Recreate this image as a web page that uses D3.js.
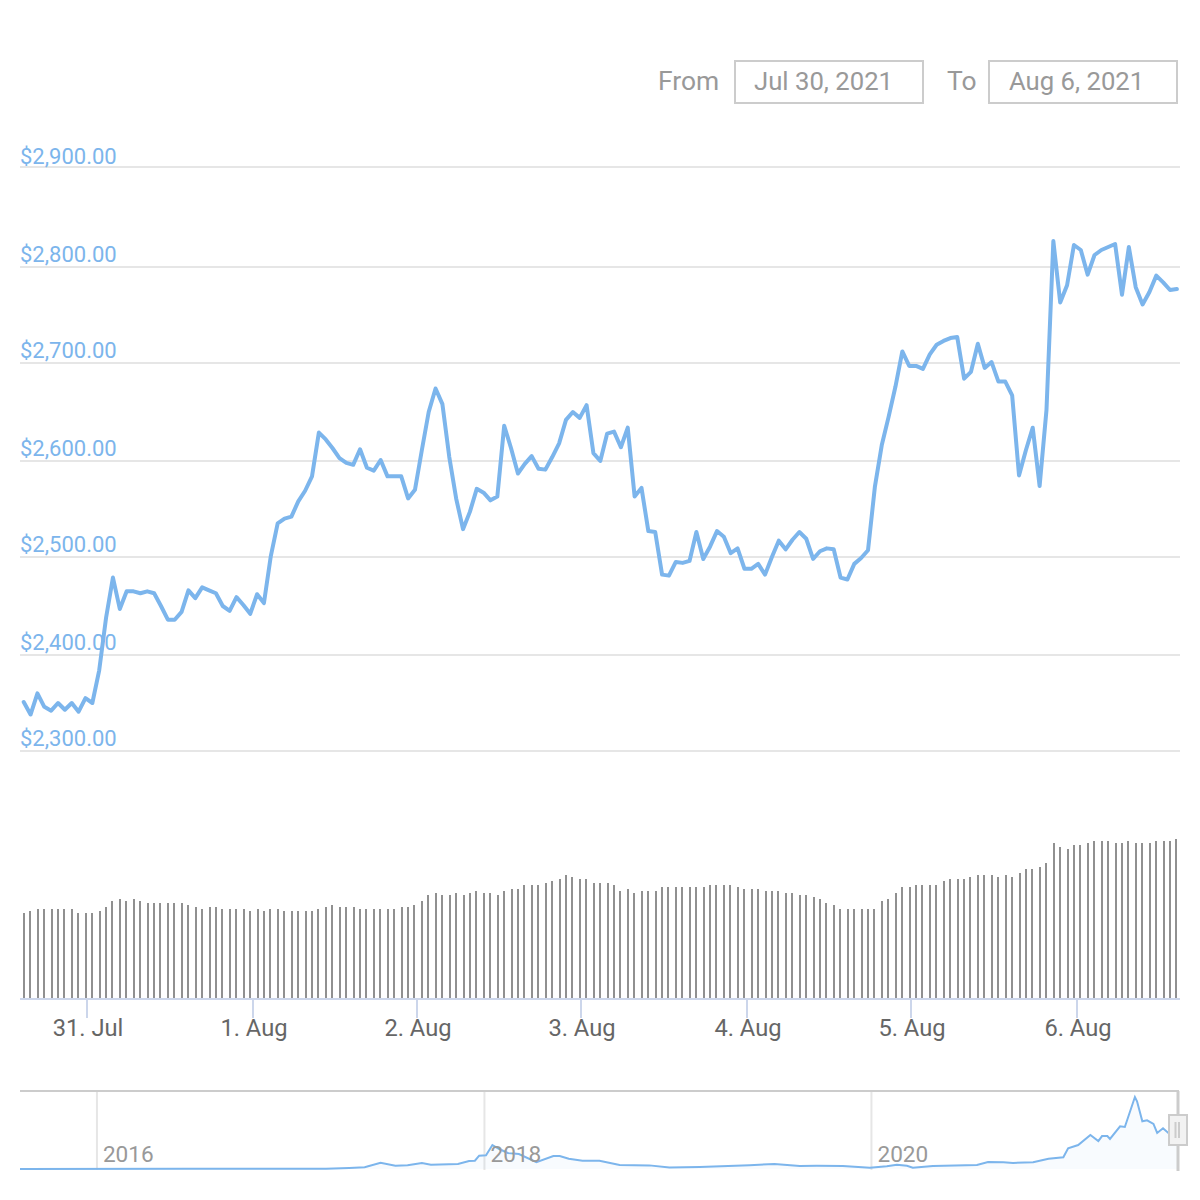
<!DOCTYPE html>
<html>
<head>
<meta charset="utf-8">
<script src="https://cdn.jsdelivr.net/npm/d3@7"></script>
<style>
  body { margin: 0; background: #fff; }
  text { font-family: Roboto, sans-serif; }
</style>
</head>
<body>
<div id="chart"></div>
<script>
// hourly price (first point Jul 30 14:41 UTC)
var priceValues = [
  2351,2338,2360,2346,2342,2350,2343,2350,2341,2355,
  2350,2384,2438,2479,2447,2465,2465,2463,2465,2463,
  2450,2436,2436,2444,2466,2458,2469,2466,2463,2450,
  2445,2459,2451,2442,2462,2453,2501,2535,2540,2542,
  2558,2569,2584,2629,2622,2613,2603,2598,2596,2612,
  2593,2590,2601,2584,2584,2584,2561,2570,2611,2650,
  2674,2658,2604,2561,2529,2547,2571,2567,2559,2563,
  2636,2613,2587,2597,2605,2592,2591,2604,2618,2642,
  2650,2644,2657,2608,2600,2628,2630,2614,2634,2563,
  2572,2527,2526,2482,2481,2495,2494,2496,2526,2498,
  2511,2527,2521,2504,2509,2488,2488,2493,2482,2500,
  2517,2508,2518,2526,2519,2498,2506,2509,2508,2479,
  2477,2493,2499,2507,2573,2616,2645,2676,2712,2697,
  2697,2694,2709,2719,2723,2726,2727,2684,2691,2720,
  2695,2701,2681,2681,2667,2585,2611,2634,2574,2652,
  2826,2763,2781,2822,2817,2792,2812,2817,2820,2823,
  2771,2820,2779,2761,2774,2791,2784,2776,2777
];

// volume per hour, no axis in the source so these are relative units
var volumeValues = [
  86,88,90,90,90,90,90,90,86,86,
  86,88,92,98,100,98,100,98,96,96,
  96,96,96,96,94,92,90,92,92,90,
  90,90,90,88,90,88,90,90,88,88,
  88,88,88,90,92,94,92,92,92,90,
  90,90,90,90,90,92,92,94,98,104,
  106,104,104,106,104,106,108,106,106,104,
  108,110,110,114,114,114,116,118,120,124,
  122,120,120,116,116,116,114,108,110,106,
  108,108,108,112,112,112,112,112,112,112,
  114,114,114,114,112,110,110,110,108,108,
  108,106,106,104,104,102,100,96,94,90,
  90,90,90,90,90,98,100,106,112,112,
  114,114,114,114,118,120,120,120,122,124,
  124,124,122,124,122,126,130,130,132,136,
  156,152,150,154,154,156,158,158,158,156,
  156,158,156,156,156,158,158,158,160
];

var priceTicks = [2300, 2400, 2500, 2600, 2700, 2800, 2900];
var dayTicks = ["2021-07-31", "2021-08-01", "2021-08-02", "2021-08-03", "2021-08-04", "2021-08-05", "2021-08-06"];
var yearTicks = ["2016-01-01", "2018-01-01", "2020-01-01"];

// navigator: whole history in USD
var navDates = [
  "2015-08-07","2016-06-15","2017-03-08","2017-04-21","2017-05-20","2017-06-19","2017-07-17","2017-08-09",
  "2017-09-05","2017-09-22","2017-11-12","2017-12-03","2017-12-14","2017-12-22","2018-01-04","2018-01-16",
  "2018-01-29","2018-02-14","2018-03-07","2018-04-09","2018-05-11","2018-05-23","2018-06-09","2018-07-05",
  "2018-08-06","2018-09-13","2018-11-08","2018-12-16","2019-02-11","2019-05-16","2019-07-02","2019-08-19",
  "2019-09-20","2019-11-08","2019-12-29","2020-01-30","2020-02-18","2020-03-08","2020-03-19","2020-04-26",
  "2020-07-18","2020-08-08","2020-09-06","2020-09-24","2020-11-01","2020-11-30","2020-12-28","2021-01-06",
  "2021-01-25","2021-02-17","2021-03-04","2021-03-11","2021-03-21","2021-03-26","2021-04-14","2021-04-23",
  "2021-05-12","2021-05-16","2021-05-26","2021-06-04","2021-06-16","2021-06-23","2021-07-04","2021-07-14","2021-08-06"
];
var navValues = [
  1,10,17,58,100,365,190,215,
  350,250,290,465,480,770,795,1390,
  1160,930,870,390,755,755,600,480,
  480,230,210,90,120,220,290,180,
  190,175,75,155,250,190,75,175,
  230,405,390,350,390,600,680,1200,
  1390,1970,1620,1910,1910,1740,2475,2435,
  4175,3925,2765,2825,2610,2090,2360,2090,2775
];

var parseDay = d3.utcParse("%Y-%m-%d");
var startTime = Date.UTC(2021, 6, 30, 14, 41);
var hours = priceValues.map(function(d, i) { return new Date(startTime + i * 3600000); });

var svg = d3.select("#chart")
  .append("svg")
    .attr("width", 1200)
    .attr("height", 1200);

var x = d3.scaleUtc()
    .domain([hours[0], hours[hours.length - 1]])
    .range([23.7, 1176.9]);

// the source snaps its gridlines so they are not evenly spaced
var y = d3.scaleLinear()
    .domain(priceTicks)
    .range([751, 655, 557, 461, 363, 267, 167]);

var yVol = d3.scaleLinear()
    .domain([0, 160])
    .range([999, 839]);

// bars and ticks sit on odd pixels in the source
function snap(v) { return Math.floor((v - 1) / 2) * 2 + 1; }
function nearestOdd(v) { return Math.round((v - 1) / 2) * 2 + 1; }

// date inputs
var inputs = [
  {label: "From", labelX: 658, boxX: 735, text: "Jul 30, 2021", textX: 754},
  {label: "To", labelX: 947, boxX: 989, text: "Aug 6, 2021", textX: 1009}
];
inputs.forEach(function(d) {
  svg.append("text").attr("x", d.labelX).attr("y", 90)
    .style("font-size", "26.4px").style("fill", "#999").text(d.label);
  svg.append("rect").attr("x", d.boxX).attr("y", 61).attr("width", 188).attr("height", 42)
    .attr("fill", "none").attr("stroke", "#ccc").attr("stroke-width", 2);
  svg.append("text").attr("x", d.textX).attr("y", 90)
    .style("font-size", "25.7px").style("fill", "#999").text(d.text);
});

// y axis + grid
var yAxis = svg.append("g")
    .attr("transform", "translate(20,0)")
    .call(d3.axisRight(y).tickValues(priceTicks).tickSize(1160).offset(0)
      .tickFormat(function(d) { return "$" + d3.format(",.2f")(d); }));
yAxis.select(".domain").remove();
yAxis.selectAll("line").attr("stroke", "#e6e6e6").attr("stroke-width", 2);
yAxis.selectAll("text")
    .attr("x", 0).attr("y", 0)
    .attr("dy", function(d) { return d === 2900 ? -3 : -5; })
    .attr("text-anchor", "start")
    .style("font-size", "22px")
    .style("fill", "#7cb5ec");

// volume
svg.selectAll("rect.vol")
    .data(volumeValues)
    .enter()
    .append("rect")
      .attr("class", "vol")
      .attr("x", function(d, i) { return snap(x(hours[i])); })
      .attr("y", function(d) { return yVol(d); })
      .attr("width", 2)
      .attr("height", function(d) { return yVol(0) - yVol(d); })
      .attr("fill", "#909090");

// price line
var line = d3.line()
    .x(function(d, i) { return x(hours[i]); })
    .y(function(d) { return y(d); });

svg.append("path")
    .datum(priceValues)
    .attr("d", line)
    .attr("fill", "none")
    .attr("stroke", "#7cb5ec")
    .attr("stroke-width", 4)
    .attr("stroke-linejoin", "round")
    .attr("stroke-linecap", "round");

// x axis
var xAxis = svg.append("g")
    .attr("transform", "translate(0,999)")
    .call(d3.axisBottom(x).tickValues(dayTicks.map(parseDay)).tickSize(19).tickPadding(0).offset(0)
      .tickFormat(d3.utcFormat("%-d. %b")));
xAxis.select(".domain").remove();
xAxis.selectAll(".tick")
    .attr("transform", function(d) { return "translate(" + nearestOdd(x(d)) + ",0)"; });
xAxis.selectAll("line").attr("stroke", "#ccd6eb").attr("stroke-width", 2);
xAxis.selectAll("text")
    .attr("x", 1).attr("y", 37).attr("dy", 0)
    .style("font-size", "23.7px")
    .style("fill", "#666");
svg.append("line")
    .attr("x1", 20).attr("x2", 1180).attr("y1", 999).attr("y2", 999)
    .attr("stroke", "#ccd6eb").attr("stroke-width", 2);

// navigator
var navX = d3.scaleUtc()
    .domain([parseDay(navDates[0]), parseDay(navDates[navDates.length - 1])])
    .range([19, 1180.5]);
var navY = d3.scaleLinear()
    .domain([0, 4175])
    .range([1169, 1097]);

var navTop = 1091, navBottom = 1171;

svg.append("clipPath").attr("id", "navClip")
  .append("rect").attr("x", 20).attr("y", navTop).attr("width", 1158).attr("height", navBottom - navTop);

svg.selectAll("line.year")
    .data(yearTicks)
    .enter()
    .append("line")
      .attr("class", "year")
      .attr("x1", function(d) { return navX(parseDay(d)); })
      .attr("x2", function(d) { return navX(parseDay(d)); })
      .attr("y1", navTop).attr("y2", navBottom - 1)
      .attr("stroke", "#e6e6e6").attr("stroke-width", 2);

var navArea = d3.area()
    .x(function(d, i) { return navX(parseDay(navDates[i])); })
    .y0(navY(0))
    .y1(function(d) { return navY(d); });
var navLine = d3.line()
    .x(function(d, i) { return navX(parseDay(navDates[i])); })
    .y(function(d) { return navY(d); });

svg.append("path").datum(navValues).attr("d", navArea)
    .attr("clip-path", "url(#navClip)")
    .attr("fill", "#7cb5ec").attr("fill-opacity", 0.05);
svg.append("path").datum(navValues).attr("d", navLine)
    .attr("clip-path", "url(#navClip)")
    .attr("fill", "none").attr("stroke", "#7cb5ec").attr("stroke-width", 2);

svg.selectAll("text.year")
    .data(yearTicks)
    .enter()
    .append("text")
      .attr("class", "year")
      .attr("x", function(d) { return navX(parseDay(d)) + 6; })
      .attr("y", 1162)
      .style("font-size", "22.6px")
      .style("fill", "#999")
      .text(function(d) { return d.slice(0, 4); });

svg.append("line").attr("x1", 20).attr("x2", 1179).attr("y1", navTop).attr("y2", navTop)
    .attr("stroke", "#ccc").attr("stroke-width", 2);
svg.append("line").attr("x1", 1178).attr("x2", 1178).attr("y1", navTop).attr("y2", navBottom)
    .attr("stroke", "#ccc").attr("stroke-width", 3);

// handle
svg.append("rect").attr("x", 1169).attr("y", 1115).attr("width", 18).attr("height", 30)
    .attr("fill", "#f2f2f2").attr("stroke", "#ccc").attr("stroke-width", 2);
[1175.5, 1179].forEach(function(h) {
  svg.append("line").attr("x1", h).attr("x2", h).attr("y1", 1122).attr("y2", 1138)
    .attr("stroke", "#ccc").attr("stroke-width", 2);
});
</script>
</body>
</html>
